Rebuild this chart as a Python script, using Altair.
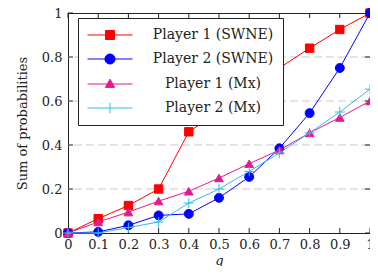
import altair as alt
import pandas as pd

q = [0.0, 0.1, 0.2, 0.3, 0.4, 0.5, 0.6, 0.7, 0.8, 0.9, 1.0]
series_names = ["Player 1 (SWNE)", "Player 2 (SWNE)", "Player 1 (Mx)", "Player 2 (Mx)"]
p1_swne = [0.0, 0.065, 0.125, 0.2, 0.46, 0.55, 0.65, 0.75, 0.84, 0.925, 1.0]
p2_swne = [0.0, 0.005, 0.035, 0.08, 0.087, 0.16, 0.255, 0.385, 0.545, 0.75, 1.0]
p1_mx = [0.0, 0.05, 0.095, 0.145, 0.19, 0.25, 0.315, 0.377, 0.455, 0.525, 0.6]
p2_mx = [0.0, 0.0, 0.025, 0.05, 0.136, 0.2, 0.28, 0.364, 0.455, 0.55, 0.654]
y_ticks = [0.0, 0.2, 0.4, 0.6, 0.8, 1.0]
grid_vals = [0.2, 0.4, 0.6, 0.8]

colors = ["#ff0000", "#0000ff", "#e6198c", "#33bbee"]
plot_shapes = ["square", "circle", "triangle-up", "M-1,0H1M0,-1V1"]
plot_sizes = [70, 80, 75, 100]
legend_shapes = [
    "M-3,0H3M-0.6,-0.6H0.6V0.6H-0.6Z",
    "M-3,0H3M0.67,0A0.67,0.67,0,1,1,-0.67,0A0.67,0.67,0,1,1,0.67,0Z",
    "M-3,0H3M0,-0.65L0.62,0.45H-0.62Z",
    "M-3,0H3M0,-0.7V0.7",
]

rows = []
for name, vals in zip(series_names, [p1_swne, p2_swne, p1_mx, p2_mx]):
    for qq, v in zip(q, vals):
        rows.append({"q": qq, "v": v, "series": name})
df = pd.DataFrame(rows)

FONT = "DejaVu Serif"
W, H = 302, 220

xscale = alt.Scale(domain=[0, 1], nice=False, zero=False)
yscale = alt.Scale(domain=[0, 1], nice=False)
fill_scale = alt.Scale(domain=series_names, range=colors)
stroke_scale = alt.Scale(domain=series_names, range=colors)

X = alt.X("q:Q", scale=xscale, axis=alt.Axis(
    values=q, format="~g", title="q", titleFontStyle="italic", titleFontWeight="normal",
    titleFont=FONT, labelFont=FONT, titleFontSize=13,
    ticks=False, domain=False, grid=False, labelPadding=5, titlePadding=3,
    labelFlush=False))
Y = alt.Y("v:Q", scale=yscale, axis=alt.Axis(
    values=y_ticks, format="~g", title="Sum of probabilities", titleFontWeight="normal",
    titleFont=FONT, labelFont=FONT,
    titleFontSize=13, ticks=False, domain=False, grid=False, labelPadding=6, titlePadding=12,
    labelFlush=False))

leg_kw = dict(orient="none", legendX=10, legendY=5, title=None, labelFont=FONT,
              labelFontSize=14, labelOffset=95)
leg = alt.Chart(df).transform_filter("datum.q > 2").mark_point(
    filled=True, size=225, opacity=1, strokeWidth=1).encode(
    x=X, y=Y,
    shape=alt.Shape("series:N", scale=alt.Scale(domain=series_names, range=legend_shapes),
                    legend=alt.Legend(**leg_kw)),
    fill=alt.Fill("series:N", scale=fill_scale, legend=alt.Legend(**leg_kw)),
    stroke=alt.Stroke("series:N", scale=stroke_scale, legend=alt.Legend(**leg_kw)),
)

grid_df = pd.DataFrame({"v": grid_vals})
grid = alt.Chart(grid_df).mark_rule(color="#c8c8c8", strokeDash=[8, 4], strokeWidth=1.2).encode(y=Y)

tick_x_df = pd.DataFrame({"q": q})
tick_y_df = pd.DataFrame({"v": y_ticks})
tb = alt.Chart(tick_x_df).mark_rule(color="#222222").encode(x=X, y=alt.value(H), y2=alt.value(H - 5))
tt = alt.Chart(tick_x_df).mark_rule(color="#222222").encode(x=X, y=alt.value(0), y2=alt.value(5))
tl = alt.Chart(tick_y_df).mark_rule(color="#222222").encode(y=Y, x=alt.value(0), x2=alt.value(5))
tr = alt.Chart(tick_y_df).mark_rule(color="#222222").encode(y=Y, x=alt.value(W - 5), x2=alt.value(W))

layers = [leg, grid, tb, tt, tl, tr]
for name, shp, sz in zip(series_names, plot_shapes, plot_sizes):
    sub = alt.Chart(df).transform_filter(alt.datum.series == name)
    ln = sub.mark_line(strokeWidth=1).encode(
        x=X, y=Y, stroke=alt.Stroke("series:N", scale=stroke_scale))
    pt = sub.mark_point(shape=shp, filled=True, size=sz, opacity=1, strokeWidth=1).encode(
        x=X, y=Y,
        fill=alt.Fill("series:N", scale=fill_scale),
        stroke=alt.Stroke("series:N", scale=stroke_scale))
    layers += [ln, pt]

chart = alt.layer(*layers).properties(
    width=W, height=H,
    autosize=alt.AutoSizeParams(type="none"),
    padding={"left": 60, "top": 5, "right": 0, "bottom": 33},
).configure_view(stroke="#222222", strokeWidth=1).configure_axis(
    labelFont=FONT, labelFontSize=13, labelColor="#222222",
    titleFont=FONT, titleFontSize=13, titleColor="#222222",
).configure_legend(
    labelFont=FONT, labelFontSize=14, labelColor="#222222", labelAlign="center",
    symbolSize=225, symbolStrokeWidth=1, symbolOffset=15, labelOffset=95,
    padding=9, rowPadding=9, fillColor="white", strokeColor="#222222",
    cornerRadius=0, labelLimit=300,
)

chart.save("out.html", embed_options={"renderer": "svg", "actions": False})
